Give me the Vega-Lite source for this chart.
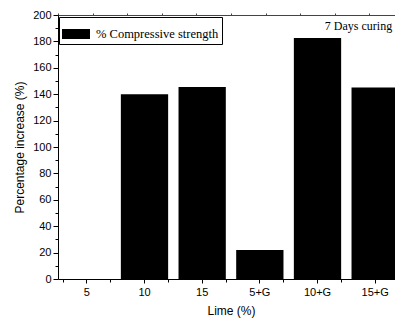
{
  "$schema": "https://vega.github.io/schema/vega-lite/v6.json",
  "autosize": "none",
  "width": 346,
  "height": 264,
  "padding": {"left": 58, "top": 15, "right": 0, "bottom": 41},
  "background": "white",
  "config": {
    "view": {"stroke": null},
    "axis": {
      "labelFont": "Liberation Sans",
      "labelFontSize": 11,
      "labelColor": "#000",
      "titleFont": "Liberation Sans",
      "titleFontSize": 12,
      "titleFontWeight": "normal",
      "titleColor": "#000",
      "tickColor": "#000",
      "domainColor": "#000",
      "grid": false
    }
  },
  "data": {
    "values": [
      {"Lime": "5", "increase": 0, "series": "% Compressive strength"},
      {"Lime": "10", "increase": 140, "series": "% Compressive strength"},
      {"Lime": "15", "increase": 145.5, "series": "% Compressive strength"},
      {"Lime": "5+G", "increase": 22, "series": "% Compressive strength"},
      {"Lime": "10+G", "increase": 182.5, "series": "% Compressive strength"},
      {"Lime": "15+G", "increase": 145, "series": "% Compressive strength"}
    ]
  },
  "layer": [
    {
      "mark": {"type": "bar", "strokeWidth": 0},
      "encoding": {
        "x": {
          "field": "Lime", "type": "nominal",
          "scale": {"domain": ["5", "10", "15", "5+G", "10+G", "15+G"], "paddingInner": 0.18, "paddingOuter": 0.09},
          "axis": {"orient": "bottom", "title": "Lime (%)", "labelAngle": 0, "tickSize": 4, "labelPadding": 3, "titlePadding": 8}
        },
        "y": {
          "field": "increase", "type": "quantitative",
          "scale": {"domain": [0, 200], "nice": false},
          "axis": {"orient": "left", "title": "Percentage increase (%)", "values": [0, 20, 40, 60, 80, 100, 120, 140, 160, 180, 200], "tickSize": 5, "labelPadding": 2, "titlePadding": 6}
        },
        "color": {
          "field": "series", "type": "nominal",
          "scale": {"range": ["#000"]},
          "legend": {
            "title": null,
            "orient": "none",
            "legendX": 1,
            "legendY": 2,
            "padding": 3,
            "strokeColor": "#000",
            "symbolType": "M-1,-0.357H1V0.357H-1Z",
            "symbolSize": 784,
            "symbolFillColor": "#000",
            "symbolStrokeWidth": 0,
            "labelFont": "Liberation Serif",
            "labelFontSize": 12.5,
            "labelColor": "#000",
            "labelOffset": 6
          }
        }
      }
    },
    {
      "mark": {"type": "bar", "opacity": 0},
      "encoding": {
        "x": {
          "field": "Lime", "type": "nominal",
          "scale": {"domain": ["5", "10", "15", "5+G", "10+G", "15+G"], "paddingInner": 0.18, "paddingOuter": 0.09},
          "axis": {"orient": "bottom", "title": null, "labels": false, "domain": false, "tickBand": "extent", "tickSize": 3}
        },
        "y": {
          "field": "increase", "type": "quantitative",
          "axis": {"orient": "left", "title": null, "labels": false, "domain": false, "values": [10, 30, 50, 70, 90, 110, 130, 150, 170, 190], "tickSize": 3}
        }
      }
    },
    {
      "data": {"values": [{"t": 0}]},
      "mark": {"type": "rule", "opacity": 0},
      "encoding": {
        "x": {
          "field": "t", "type": "quantitative",
          "scale": {"domain": [0, 10], "nice": false},
          "axis": {"orient": "top", "title": null, "labels": false, "values": [0, 1, 2, 3, 4, 5, 6, 7, 8, 9, 10], "tickSize": 2, "domainColor": "#444", "tickColor": "#444"}
        }
      }
    },
    {
      "data": {"values": [{"note": "7 Days curing", "Lime": "15+G", "level": 188.5}]},
      "mark": {"type": "text", "font": "Liberation Serif", "fontSize": 12, "fontWeight": "normal", "align": "right", "baseline": "alphabetic", "dx": 17, "color": "#000"},
      "encoding": {
        "text": {"field": "note"},
        "x": {"field": "Lime", "type": "nominal", "scale": {"domain": ["5", "10", "15", "5+G", "10+G", "15+G"], "paddingInner": 0.18, "paddingOuter": 0.09}, "axis": null},
        "y": {"field": "level", "type": "quantitative", "axis": null}
      }
    }
  ],
  "resolve": {"scale": {"x": "independent"}, "axis": {"x": "independent", "y": "independent"}}
}
